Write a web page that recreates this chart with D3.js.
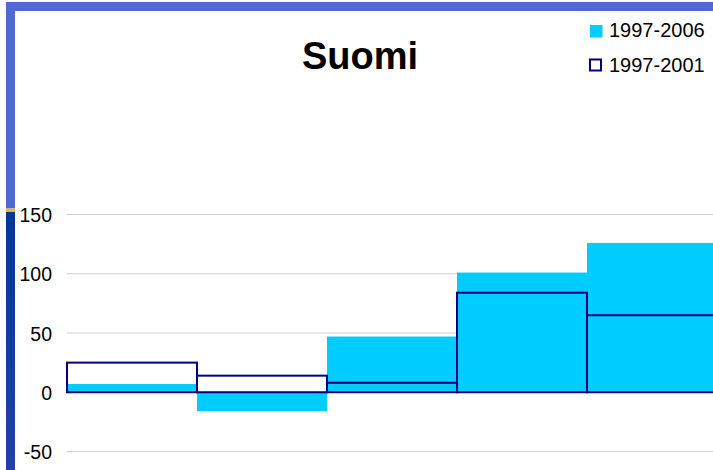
<!DOCTYPE html>
<html>
<head>
<meta charset="utf-8">
<script src="https://cdn.jsdelivr.net/npm/d3@7"></script>
<style>
  body { margin: 0; background: #fff; }
  svg { display: block; font-family: Arial, "Liberation Sans", sans-serif; }
</style>
</head>
<body>
<div id="plot"></div>
<script>
// Data
var categories = ["A", "B", "C", "D", "E"];
var series2006 = [7, -16, 47, 101, 126];   // 1997-2006, filled
var series2001 = [25, 14, 8, 84, 65];      // 1997-2001, outline
var seriesNames = ["1997-2006", "1997-2001"];
var yTicks = [-50, 0, 50, 100, 150];

var W = 713, H = 470;

var svg = d3.select("div#plot")
    .append("svg")
    .attr("width", W)
    .attr("height", H);

// Frame decoration: blue bands on top and left
var defs = svg.append("defs");
var grad = defs.append("linearGradient")
    .attr("id", "darkband")
    .attr("x1", 0).attr("y1", 0).attr("x2", 0).attr("y2", 1);
grad.append("stop").attr("offset", "0%").attr("stop-color", "#02369c");
grad.append("stop").attr("offset", "100%").attr("stop-color", "#2240aa");

svg.append("rect").attr("x", 6).attr("y", 2).attr("width", W - 6).attr("height", 9).attr("fill", "#4f68d2");
svg.append("rect").attr("x", 6).attr("y", 2).attr("width", 9).attr("height", 206.5).attr("fill", "#4f68d2");
svg.append("rect").attr("x", 6).attr("y", 208.5).attr("width", 9).attr("height", 3.5).attr("fill", "#e4b834");
svg.append("rect").attr("x", 6).attr("y", 212).attr("width", 9).attr("height", H - 212).attr("fill", "url(#darkband)");

// Scales
var xScale = d3.scaleBand()
    .domain(categories)
    .range([67, 717])
    .padding(0);

var yScale = d3.scaleLinear()
    .domain([-50, 150])
    .range([451.5, 214.5]);

// Gridlines
svg.append("g")
    .selectAll("line")
    .data(yTicks)
    .enter().append("line")
    .attr("x1", 67)
    .attr("x2", W)
    .attr("y1", function (d) { return yScale(d); })
    .attr("y2", function (d) { return yScale(d); })
    .attr("stroke", "#cfcfcf")
    .attr("stroke-width", 1.2);

// Y axis labels (plain hyphen for negatives)
var yAxis = d3.axisLeft(yScale)
    .tickValues(yTicks)
    .tickFormat(function (d) { return String(d); })
    .tickSize(0)
    .tickPadding(0);
var gy = svg.append("g")
    .attr("transform", "translate(52,0)")
    .call(yAxis);
gy.select(".domain").remove();
gy.selectAll("text")
    .attr("font-size", 19.5)
    .attr("font-family", "Arial, 'Liberation Sans', sans-serif")
    .attr("fill", "#000")
    .attr("dy", "0.36em");

// Filled bars
svg.append("g")
    .selectAll("rect")
    .data(series2006)
    .enter().append("rect")
    .attr("x", function (d, i) { return xScale(categories[i]); })
    .attr("width", xScale.bandwidth())
    .attr("y", function (d) { return yScale(Math.max(0, d)); })
    .attr("height", function (d) { return Math.abs(yScale(d) - yScale(0)); })
    .attr("fill", "#00ccff");

// Outline bars
svg.append("g")
    .selectAll("rect")
    .data(series2001)
    .enter().append("rect")
    .attr("x", function (d, i) { return xScale(categories[i]); })
    .attr("width", xScale.bandwidth())
    .attr("y", function (d) { return yScale(Math.max(0, d)); })
    .attr("height", function (d) { return Math.abs(yScale(d) - yScale(0)); })
    .attr("fill", "none")
    .attr("stroke", "#000080")
    .attr("stroke-width", 2);

// Title
svg.append("text")
    .attr("x", 360)
    .attr("y", 69)
    .attr("text-anchor", "middle")
    .attr("font-size", 38)
    .attr("font-weight", "bold")
    .text("Suomi");

// Legend
var legend = svg.append("g");
legend.append("rect")
    .attr("x", 590).attr("y", 25)
    .attr("width", 12.5).attr("height", 12.5)
    .attr("fill", "#00ccff");
legend.append("rect")
    .attr("x", 590).attr("y", 59.5)
    .attr("width", 11).attr("height", 11)
    .attr("fill", "#fff")
    .attr("stroke", "#000080")
    .attr("stroke-width", 2);
legend.selectAll("text.lg")
    .data(seriesNames)
    .enter().append("text")
    .attr("class", "lg")
    .attr("x", 609)
    .attr("y", function (d, i) { return 37 + i * 34.5; })
    .attr("font-size", 20)
    .text(function (d) { return d; });
</script>
</body>
</html>
